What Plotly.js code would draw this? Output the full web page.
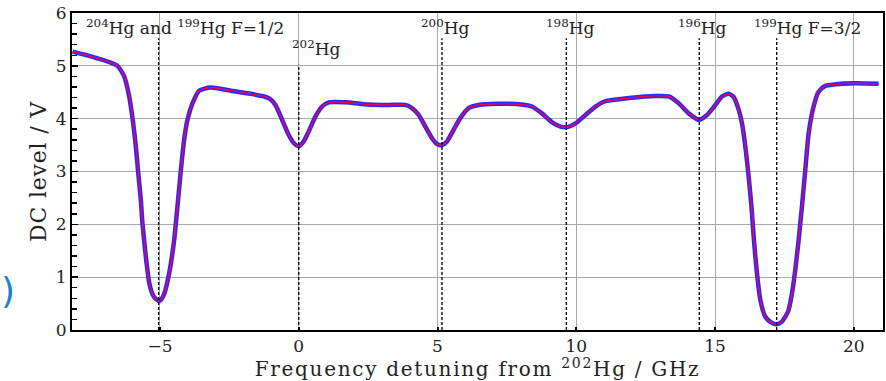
<!DOCTYPE html>
<html><head><meta charset="utf-8">
<script src="https://cdn.plot.ly/plotly-3.0.1.min.js"></script>
<style>html,body{margin:0;padding:0;background:#fff}#chart{width:886px;height:381px}
.xtitle{letter-spacing:1.7px}.ytitle{letter-spacing:0.8px}</style>
</head><body><div id="chart"></div>
<script>
// Frequency detuning from 202Hg (GHz)
const detuning = [-8.15,-7.49,-6.77,-6.53,-6.29,-6.11,-5.99,-5.87,-5.79,-5.69,-5.63,-5.51,-5.39,-5.30,-5.21,-5.05,-4.95,-4.85,-4.67,-4.49,-4.37,-4.25,-4.13,-4.01,-3.83,-3.59,-3.17,-2.45,-1.73,-1.25,-1.05,-0.84,-0.60,-0.36,-0.18,0.00,0.18,0.36,0.60,0.84,1.08,1.68,2.52,3.24,3.84,4.08,4.32,4.56,4.80,4.98,5.16,5.34,5.58,5.82,6.12,6.48,7.20,8.04,8.40,8.76,9.13,9.43,9.67,9.97,10.33,10.69,11.05,11.89,12.85,13.33,13.69,14.05,14.41,14.71,15.01,15.25,15.49,15.67,15.85,15.97,16.09,16.21,16.31,16.40,16.51,16.63,16.81,17.03,17.21,17.41,17.63,17.77,17.89,18.01,18.13,18.25,18.37,18.55,18.73,18.97,19.33,20.05,20.89];
// DC level (V)
const dcLevel = [5.27,5.18,5.06,5.00,4.80,4.42,4.01,3.47,3.01,2.46,2.01,1.39,0.90,0.72,0.62,0.55,0.58,0.68,1.07,1.70,2.34,3.01,3.60,3.98,4.29,4.53,4.59,4.53,4.47,4.42,4.38,4.26,3.98,3.69,3.54,3.48,3.57,3.76,4.04,4.23,4.31,4.31,4.27,4.26,4.26,4.20,4.07,3.85,3.63,3.52,3.50,3.57,3.79,4.01,4.20,4.26,4.28,4.27,4.23,4.10,3.93,3.85,3.84,3.91,4.07,4.23,4.33,4.39,4.43,4.42,4.29,4.10,3.98,4.07,4.26,4.42,4.47,4.41,4.17,3.91,3.47,2.90,2.34,1.70,1.07,0.57,0.25,0.14,0.11,0.16,0.35,0.69,1.14,1.70,2.34,3.03,3.72,4.23,4.51,4.62,4.65,4.67,4.66];
const isotopeNames = ['<sup>204</sup>Hg and <sup>199</sup>Hg F=1/2','<sup>202</sup>Hg','<sup>200</sup>Hg','<sup>198</sup>Hg','<sup>196</sup>Hg','<sup>199</sup>Hg F=3/2'];
const isotopeDetuning = [-5.05,0,5.16,9.64,14.43,17.22];
const xTicks = [-5,0,5,10,15,20];
const yTicks = [0,1,2,3,4,5,6];

const serif = 'DejaVu Serif';
// label placement (layout only)
const labelLeft = [-7.74,-0.30,4.35,8.83,13.59,16.33];
const labelY = [5.74,5.34,5.74,5.74,5.74,5.74];
const lineTop = [5.52,5.02,5.52,5.52,5.52,5.52];

const shapes = isotopeDetuning.map((v,i)=>({type:'line',xref:'x',yref:'y',x0:v,x1:v,y0:0,y1:lineTop[i],
  line:{color:'#000',width:1.3,dash:'3px,2px'},layer:'above'}));
const annotations = isotopeNames.map((t,i)=>({xref:'x',yref:'y',x:labelLeft[i],y:labelY[i],xanchor:'left',yanchor:'middle',
  text:t,showarrow:false,font:{family:serif,size:17,color:'#222'}}));
annotations.push({xref:'paper',yref:'paper',x:-0.079,y:0.126,xanchor:'center',yanchor:'middle',text:')',showarrow:false,
  font:{family:'DejaVu Sans',size:36,color:'#1b7fd3'}});

const traces = [
  {x:detuning,y:dcLevel,type:'scatter',mode:'lines',line:{color:'rgb(40,40,250)',width:4.5,shape:'spline',smoothing:0.6},hoverinfo:'skip'},
  {x:detuning,y:dcLevel,type:'scatter',mode:'lines',line:{color:'rgb(255,0,70)',width:1.3,shape:'spline',smoothing:0.6}}
];

const layout = {
  width:886,height:381,margin:{l:72,r:3,t:13,b:51},
  paper_bgcolor:'#fff',plot_bgcolor:'#fff',showlegend:false,
  xaxis:{range:[-8.17,21.05],tickvals:xTicks,ticks:'inside',ticklen:3,tickwidth:2,tickcolor:'#000',
    showgrid:true,gridcolor:'#a8a8a8',gridwidth:1,zeroline:false,showline:true,linecolor:'#000',linewidth:2,mirror:true,
    tickfont:{family:serif,size:17,color:'#222'},
    title:{text:'Frequency detuning from <sup>202</sup>Hg / GHz',font:{family:serif,size:20,color:'#222'},standoff:10}},
  yaxis:{range:[0,6],tickvals:yTicks,ticks:'inside',ticklen:6,tickwidth:1.5,tickcolor:'#000',
    minor:{dtick:0.2,ticks:'inside',ticklen:5,tickwidth:1.5,tickcolor:'#000',showgrid:false},
    showgrid:true,gridcolor:'#a8a8a8',gridwidth:1,zeroline:false,showline:true,linecolor:'#000',linewidth:2,mirror:true,
    tickfont:{family:serif,size:17,color:'#222'},
    title:{text:'DC level / V',font:{family:serif,size:22,color:'#222'},standoff:3}},
  shapes:shapes,annotations:annotations
};
Plotly.newPlot('chart',traces,layout,{displayModeBar:false,staticPlot:true});
</script></body></html>
